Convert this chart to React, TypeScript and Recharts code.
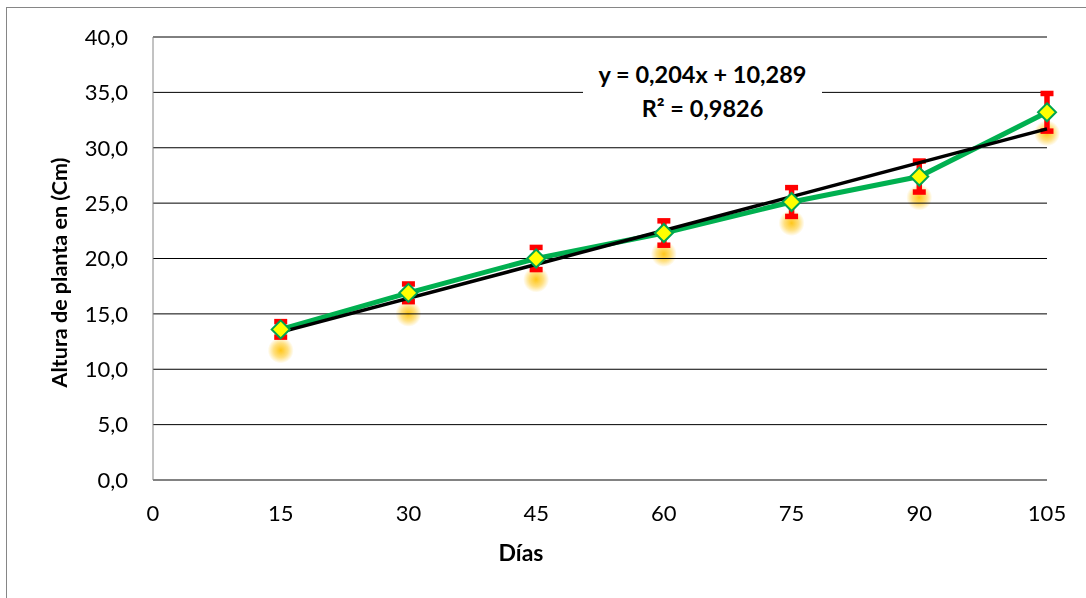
import {
  ComposedChart, Line, XAxis, YAxis, CartesianGrid, ErrorBar, Label,
} from "recharts";

// valores
const dias = [15, 30, 45, 60, 75, 90, 105];
const altura = [13.6, 16.9, 20.0, 22.3, 25.1, 27.4, 33.2];
const errorAltura = [0.7, 0.8, 1.0, 1.1, 1.3, 1.4, 1.7];

const xTicks = [0, 15, 30, 45, 60, 75, 90, 105];
const yTicks = [0, 5, 10, 15, 20, 25, 30, 35, 40];

// línea de tendencia (ecuación mostrada en el gráfico)
const pendiente = 0.204;
const intercepto = 10.289;
const tendenciaX = [15, 105];
const ecuacion = "y = 0,204x + 10,289";
const rCuadrado = "R² = 0,9826";

const data = dias.map((d, i) => ({ dia: d, altura: altura[i], err: errorAltura[i] }));
const trendData = tendenciaX.map((d) => ({ dia: d, tendencia: pendiente * d + intercepto }));

const FONT = "Lato, 'Open Sans', sans-serif";
const GREEN = "#00B050";

// sombra amarilla bajo cada marcador (multiply: no tapa el rojo de las barras)
function GlowDot(props: any) {
  const { cx, cy, index } = props;
  if (cx == null || cy == null) return null;
  const gid = `glow-${index}`;
  return (
    <g key={gid}>
      <defs>
        <radialGradient id={gid}>
          <stop offset="0%" stopColor="#FFC000" stopOpacity={0.9} />
          <stop offset="55%" stopColor="#FFC000" stopOpacity={0.5} />
          <stop offset="100%" stopColor="#FFC000" stopOpacity={0} />
        </radialGradient>
      </defs>
      <ellipse cx={cx} cy={cy + 21} rx={13} ry={13} fill={`url(#${gid})`} style={{ mixBlendMode: "multiply" }} />
    </g>
  );
}

function DiamondDot(props: any) {
  const { cx, cy, index } = props;
  if (cx == null || cy == null) return null;
  const s = 9;
  return (
    <polygon
      key={`d-${index}`}
      points={`${cx},${cy - s} ${cx + s},${cy} ${cx},${cy + s} ${cx - s},${cy}`}
      fill="#FFFF00"
      stroke="#00A550"
      strokeWidth={2}
    />
  );
}

const fmt = (v: number) => v.toFixed(1).replace(".", ",");

export default function App() {
  return (
    <div style={{ position: "fixed", left: 0, top: 0, width: 1086, height: 598, overflow: "hidden", background: "#fff", fontFamily: FONT }}>
      <div style={{ position: "absolute", left: 6, top: 7, width: 1200, height: 700, border: "1px solid #868686", boxSizing: "border-box" }} />
      <ComposedChart
        width={1086}
        height={598}
        margin={{ top: 37, right: 39, bottom: 58, left: 0 }}
        style={{ position: "absolute", left: 0, top: 0 }}
      >
        <CartesianGrid horizontal vertical={false} stroke="#000" strokeWidth={1} />
        <XAxis
          dataKey="dia"
          type="number"
          domain={[0, 105]}
          ticks={xTicks}
          height={60}
          tickLine={false}
          tickSize={0}
          tickMargin={25}
          axisLine={{ stroke: "#868686", strokeWidth: 1 }}
          tick={{ fill: "#000", fontSize: 22, fontFamily: FONT }}
          allowDuplicatedCategory={false}
        >
          <Label value="Días" position="bottom" offset={5} dx={-79} fill="#000" fontSize={23} fontWeight={700} fontFamily={FONT} />
        </XAxis>
        <YAxis
          type="number"
          domain={[0, 40]}
          ticks={yTicks}
          width={153}
          tickLine={false}
          tickSize={0}
          tickMargin={25}
          tickFormatter={fmt}
          axisLine={{ stroke: "#868686", strokeWidth: 1 }}
          tick={{ fill: "#000", fontSize: 22, fontFamily: FONT }}
        >
          <Label value="Altura de planta en (Cm)" position="center" angle={-90} dx={-17} dy={14} fill="#000" fontSize={21.5} fontWeight={700} fontFamily={FONT} />
        </YAxis>
        <Line
          data={data}
          dataKey="altura"
          stroke="none"
          dot={<GlowDot />}
          activeDot={false}
          legendType="none"
          isAnimationActive={false}
        />
        <Line
          data={data}
          dataKey="altura"
          stroke={GREEN}
          strokeWidth={5}
          dot={<DiamondDot />}
          activeDot={false}
          isAnimationActive={false}
        >
          <ErrorBar dataKey="err" direction="y" width={6.5} stroke="#FF0000" strokeWidth={5.5} isAnimationActive={false} />
        </Line>
        <Line
          data={trendData}
          dataKey="tendencia"
          stroke="#000"
          strokeWidth={3.5}
          dot={false}
          activeDot={false}
          isAnimationActive={false}
        />
      </ComposedChart>
      <div
        style={{
          position: "absolute", left: 583, top: 57, width: 239, height: 70, background: "#fff",
          textAlign: "center", fontWeight: 700, fontSize: 23.5, lineHeight: "34px", color: "#000",
        }}
      >
        <div>{ecuacion}</div>
        <div>{rCuadrado}</div>
      </div>
    </div>
  );
}
